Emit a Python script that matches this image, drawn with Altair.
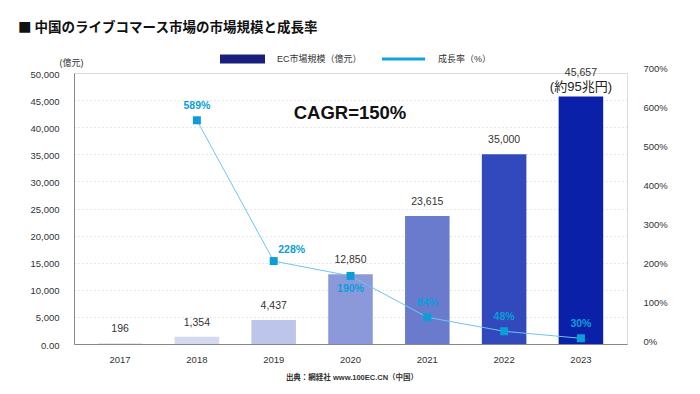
import altair as alt
import pandas as pd

years = ["2017", "2018", "2019", "2020", "2021", "2022", "2023"]
market = [196, 1354, 4437, 12850, 23615, 35000, 45657]
bar_colors = ["#e3e6f5", "#d5daf1", "#bec5ea", "#8b99da", "#6a7bcd", "#3149bc", "#0a20a8"]

rate_years = ["2018", "2019", "2020", "2021", "2022", "2023"]
rates = [589, 228, 190, 84, 48, 30]

legend_names = ["EC市場規模（億元）", "成長率（%）"]
legend_colors = ["#1b1f7c", "#12a2dc"]

title_text = "■ 中国のライブコマース市場の市場規模と成長率"
cagr_text = "CAGR=150%"
note_2023 = "(約95兆円)"
source_text = "出典：網経社 www.100EC.CN（中国）"

FONT = "Liberation Sans, Noto Sans CJK JP, sans-serif"
CJK_FONT = "Noto Sans CJK JP, sans-serif"
LINE_BLUE = "#6cc6ee"
MARK_BLUE = "#0a9ed9"

bars_df = pd.DataFrame({"year": years, "value": market})
bars_df["label"] = [f"{v:,}" for v in market]
rate_df = pd.DataFrame({"year": rate_years, "rate": rates})
rate_df["label"] = [f"{r}%" for r in rates]

x_scale = alt.Scale(domain=years, paddingInner=0.42, paddingOuter=0.31)
x_axis = alt.Axis(labelAngle=0, labelFontSize=9.5, labelColor="#333333",
                  labelPadding=10, ticks=False, domainColor="#888888",
                  domainWidth=1, labelFont=FONT, title=None)
x_main = alt.X("year:O", title=None, scale=x_scale, axis=x_axis)

y_bar_scale = alt.Scale(domain=[0, 50000], nice=False)
y_bar_axis = alt.Axis(values=list(range(0, 50001, 5000)),
                      labelExpr="datum.value == 0 ? '0.00' : format(datum.value, ',')",
                      labelFontSize=9.5, labelColor="#333333", labelPadding=15,
                      labelOffset=1,
                      ticks=False, domain=True, domainColor="#888888",
                      grid=True, gridColor="#cccccc", gridDash=[1, 3],
                      title="(億元)", titleAngle=0, titleX=-3, titleY=-11,
                      titleAlign="center", titleBaseline="middle",
                      titleFontSize=9, titleFontWeight="normal",
                      titleColor="#333333", titleFont=FONT, labelFont=FONT)
y_bar = alt.Y("value:Q", scale=y_bar_scale, axis=y_bar_axis)

bars = alt.Chart(bars_df).mark_bar().encode(
    x=x_main,
    y=y_bar,
    color=alt.Color("year:N", scale=alt.Scale(domain=years, range=bar_colors), legend=None),
)

bar_labels = alt.Chart(bars_df).transform_filter("datum.year != '2023'").mark_text(
    dy=-14, fontSize=10.5, color="#333333", font=FONT
).encode(x=x_main, y=y_bar, text="label:N")

last_label = alt.Chart(bars_df).transform_filter("datum.year == '2023'").mark_text(
    dy=-24, fontSize=10.5, color="#333333", font=FONT
).encode(x=x_main, y=y_bar, text="label:N")

last_note = alt.Chart(bars_df).transform_filter("datum.year == '2023'").mark_text(
    dy=-10, fontSize=13, color="#222222", font=FONT
).encode(x=x_main, y=y_bar, text=alt.value(note_2023))

bar_layer = alt.layer(bars, bar_labels, last_label, last_note)

y_rate_scale = alt.Scale(domain=[0, 700], range=[277, 4], nice=False, zero=False)
y_rate_axis = alt.Axis(orient="right", values=list(range(0, 701, 100)),
                       labelExpr="datum.value + '%'", labelOffset=-9,
                       labelFontSize=9.5, labelColor="#333333", labelPadding=16,
                       labelAlign="left", ticks=False, domain=False, grid=False,
                       labelFont=FONT, title=None)
y_rate = alt.Y("rate:Q", scale=y_rate_scale, title=None, axis=y_rate_axis)

line = alt.Chart(rate_df).mark_line(color=LINE_BLUE, strokeWidth=1).encode(
    x=x_main, y=y_rate)
points = alt.Chart(rate_df).mark_square(size=64, color=MARK_BLUE, opacity=1).encode(
    x=x_main, y=y_rate)

rate_text = dict(fontSize=10.5, fontWeight="bold", color=MARK_BLUE, font=FONT)
rl_above = alt.Chart(rate_df).transform_filter(
    "datum.year != '2019' && datum.year != '2020'").mark_text(dy=-14, **rate_text).encode(
    x=x_main, y=y_rate, text="label:N")
rl_right = alt.Chart(rate_df).transform_filter("datum.year == '2019'").mark_text(
    dx=18, dy=-11, **rate_text).encode(x=x_main, y=y_rate, text="label:N")
rl_below = alt.Chart(rate_df).transform_filter("datum.year == '2020'").mark_text(
    dy=13, **rate_text).encode(x=x_main, y=y_rate, text="label:N")

rate_layer = alt.layer(line, points, rl_above, rl_right, rl_below)

rect_path = "M-1,-0.2H1V0.2H-1Z"
line_path = "M-0.96,-0.07H0.96V0.07H-0.96Z"


def legend_layer(i, path, lx):
    df = pd.DataFrame({"series": [legend_names[i]]})
    return alt.Chart(df).transform_filter("false").mark_point(
        filled=True, opacity=1, shape=path).encode(
        x=alt.value(0), y=alt.value(0),
        color=alt.Color("series:N",
                        scale=alt.Scale(domain=[legend_names[i]], range=[legend_colors[i]]),
                        legend=alt.Legend(title=None, orient="none", direction="horizontal",
                                          legendX=lx, legendY=-36.5, padding=0,
                                          symbolType=path, symbolSize=2025,
                                          symbolStrokeWidth=0, symbolOpacity=1,
                                          labelOffset=12, labelFontSize=9,
                                          labelColor="#333333", labelFont=FONT)),
    )


legend_bar = legend_layer(0, rect_path, 146)
legend_line = legend_layer(1, line_path, 307)

title_df = pd.DataFrame({"t": [title_text]})
title_mark = alt.Chart(title_df).mark_text(
    fontSize=13.5, fontWeight="bold", color="#111111", font=CJK_FONT,
    align="left", baseline="middle").encode(
    x=alt.value(-56), y=alt.value(-45), text="t:N")

anno_df = pd.DataFrame({"t": [cagr_text]})
cagr = alt.Chart(anno_df).mark_text(fontSize=18.5, fontWeight="bold", color="#111111",
                                    font=FONT).encode(
    x=alt.value(276), y=alt.value(40), text="t:N")
src_df = pd.DataFrame({"t": [source_text]})
source = alt.Chart(src_df).mark_text(fontSize=7.5, fontWeight="bold", color="#333333",
                                     font=FONT).encode(
    x=alt.value(278), y=alt.value(305), text="t:N")

chart = alt.layer(bar_layer, rate_layer, legend_bar, legend_line, title_mark, cagr,
                  source).resolve_scale(
    y="independent", color="independent"
).properties(
    width=553, height=271,
    autosize=alt.AutoSizeParams(type="none"),
    padding={"left": 66, "top": 65, "right": 50, "bottom": 40},
).configure_view(stroke=None).configure(background="white")

chart.save("out.html", embed_options={"renderer": "svg", "actions": False})
